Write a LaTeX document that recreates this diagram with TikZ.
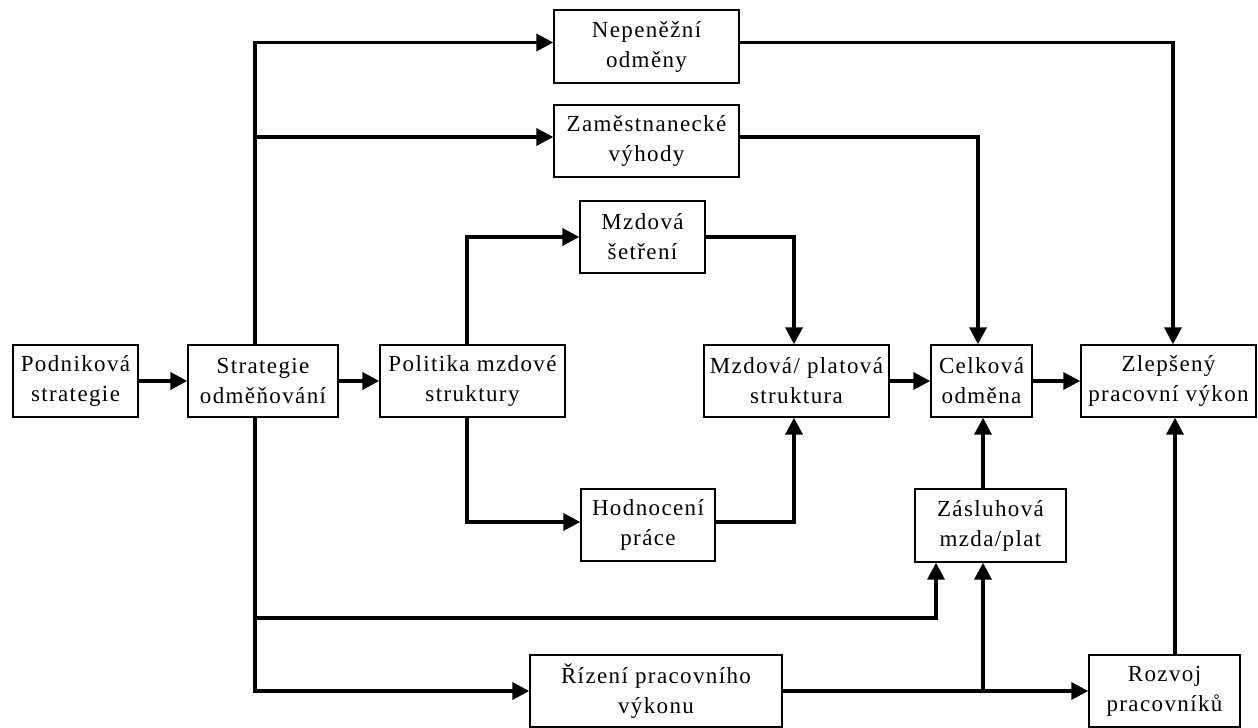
\documentclass[tikz,border=0pt]{standalone}
\usepackage{fontspec}
\setmainfont{Liberation Serif}[LetterSpace=6]
\usetikzlibrary{arrows.meta}
\tikzset{
  box/.style={draw, line width=1.4pt, inner sep=0pt, align=center,
    font=\fontsize{23}{30}\selectfont},
  conn/.style={line width=3.6pt, -{Triangle[length=17pt,width=17pt]}},
  plain/.style={line width=3.6pt}
}
\begin{document}
\begin{tikzpicture}[x=1pt,y=-1pt]
\useasboundingbox (0,0) rectangle (1258,728);
% boxes (centre, width, height)
\node[box, minimum width=125pt, minimum height=72pt] (pod) at (75.5,381) {Podniková\\strategie};
\node[box, minimum width=150pt, minimum height=72pt] (str) at (263,381) {Strategie\\odměňování};
\node[box, minimum width=185pt, minimum height=72pt] (pol) at (472.5,381) {Politika mzdové\\struktury};
\node[box, minimum width=185pt, minimum height=72pt] (mzd) at (796.5,381) {Mzdová/ platová\\struktura};
\node[box, minimum width=101pt, minimum height=72pt] (cel) at (981.5,381) {Celková\\odměna};
\node[box, minimum width=175pt, minimum height=72pt] (zle) at (1168.5,381) {Zlepšený\\pracovní výkon};
\node[box, minimum width=185pt, minimum height=73pt] (nep) at (646.5,46.5) {Nepeněžní\\odměny};
\node[box, minimum width=185pt, minimum height=72pt] (zam) at (646.5,141) {Zaměstnanecké\\výhody};
\node[box, minimum width=125pt, minimum height=72pt] (set) at (642.5,237) {Mzdová\\šetření};
\node[box, minimum width=134pt, minimum height=72pt] (hod) at (648,525) {Hodnocení\\práce};
\node[box, minimum width=151pt, minimum height=73pt] (zas) at (990.5,525.5) {Zásluhová\\mzda/plat};
\node[box, minimum width=252pt, minimum height=72pt] (riz) at (656,691) {Řízení pracovního\\výkonu};
\node[box, minimum width=151pt, minimum height=72pt] (roz) at (1164.5,691) {Rozvoj\\pracovníků};

% branch points
\coordinate (su) at ([xshift=-8pt]str.north);
\coordinate (sd) at ([xshift=-8pt]str.south);
\coordinate (bus) at (255,618);
\coordinate (pu) at ([xshift=-5.5pt]pol.north);
\coordinate (pd) at ([xshift=-5.5pt]pol.south);
\coordinate (zu) at ([xshift=4.5pt]zle.north);
\coordinate (zd) at ([xshift=6.5pt]zle.south);
\coordinate (cu) at ([xshift=-3.5pt]cel.north);
\coordinate (cd) at ([xshift=1.5pt]cel.south);
\coordinate (zl) at ([xshift=-54.5pt]zas.south);
\coordinate (nw) at ([yshift=4pt]nep.west);
\coordinate (ne) at ([yshift=4pt]nep.east);
\coordinate (zw) at ([yshift=4pt]zam.west);
\coordinate (ze) at ([yshift=4pt]zam.east);

% main chain
\draw[conn] (pod) -- (str);
\draw[conn] (str) -- (pol);
\draw[conn] (mzd) -- (cel);
\draw[conn] (cel) -- (zle);

% upper branches
\draw[conn] (su) |- (nw);
\draw[conn] (su |- zw) -- (zw);
\draw[conn] (ne) -| (zu);
\draw[conn] (ze) -| (cu);

% pay structure
\draw[conn] (pu) |- (set.west);
\draw[conn] (pd) |- ([yshift=3pt]hod.west);
\draw[conn] (set.east) -| ([xshift=-2.5pt]mzd.north);
\draw[conn] ([yshift=3pt]hod.east) -| ([xshift=-2.5pt]mzd.south);

% lower branches
\draw[conn] (sd) |- (riz.west);
\draw[conn] (bus) -| (zl);
\draw[conn] (riz.east) -- (roz.west);
\draw[conn] (riz.east -| cd) -- (zas.south -| cd);
\draw[conn] (zas.north -| cd) -- (cd);
\draw[conn] (roz.north -| zd) -- (zd);
\end{tikzpicture}
\end{document}
